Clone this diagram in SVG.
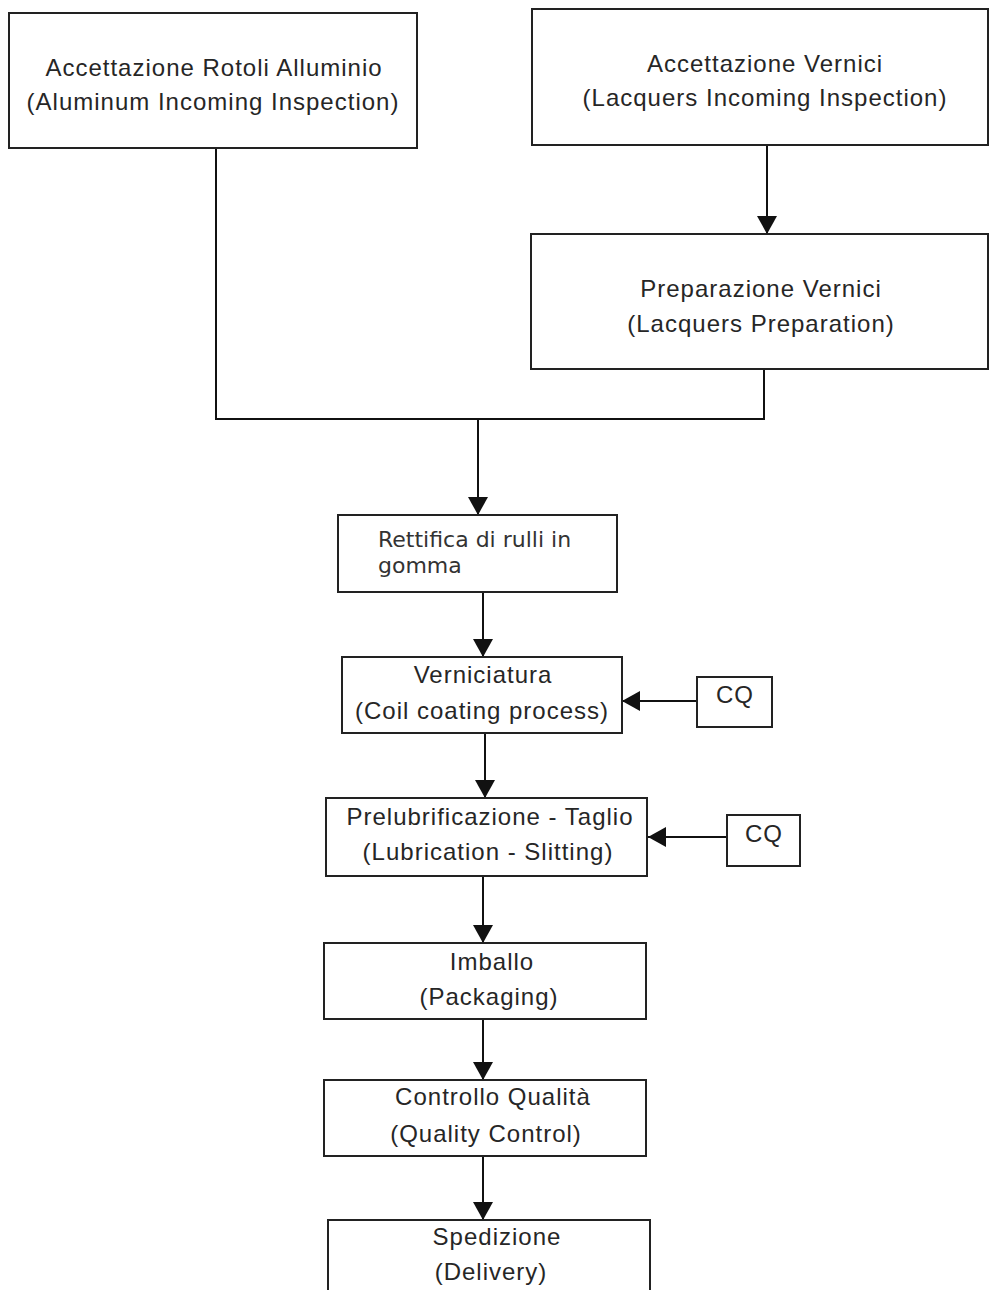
<svg xmlns="http://www.w3.org/2000/svg" width="989" height="1290" viewBox="0 0 989 1290">
<style>
.box{fill:#fff;stroke:#222;stroke-width:2}
.t{font-family:"Liberation Sans",Arial,sans-serif;font-size:24px;letter-spacing:1px;fill:#262626;text-anchor:middle}
.d{font-family:"DejaVu Sans",Verdana,sans-serif;font-size:22px;fill:#333}
.c{fill:none;stroke:#111;stroke-width:2}
</style>
<defs>
<marker id="ah" markerUnits="userSpaceOnUse" markerWidth="19" markerHeight="22" refX="18" refY="11" orient="auto">
<path d="M0,1 L18,11 L0,21 z" fill="#111"/>
</marker>
</defs>
<rect width="989" height="1290" fill="#fff"/>
<g id="connectors">
<path class="c" d="M767,145 V234" marker-end="url(#ah)"/>
<path class="c" d="M216,148 V419 H478"/>
<path class="c" d="M764,369 V419 H478"/>
<path class="c" d="M478,419 V515" marker-end="url(#ah)"/>
<path class="c" d="M483,592 V657" marker-end="url(#ah)"/>
<path class="c" d="M697,701 H622" marker-end="url(#ah)"/>
<path class="c" d="M485,733 V798" marker-end="url(#ah)"/>
<path class="c" d="M727,837 H648" marker-end="url(#ah)"/>
<path class="c" d="M483,876 V943" marker-end="url(#ah)"/>
<path class="c" d="M483,1019 V1080" marker-end="url(#ah)"/>
<path class="c" d="M483,1156 V1220" marker-end="url(#ah)"/>
</g>
<g id="n1">
<rect class="box" x="9" y="13" width="408" height="135"/>
<text class="t" x="214" y="76">Accettazione Rotoli Alluminio</text>
<text class="t" x="213" y="110">(Aluminum Incoming Inspection)</text>
</g>
<g id="n2">
<rect class="box" x="532" y="9" width="456" height="136"/>
<text class="t" x="765" y="72">Accettazione Vernici</text>
<text class="t" x="765" y="106">(Lacquers Incoming Inspection)</text>
</g>
<g id="n3">
<rect class="box" x="531" y="234" width="457" height="135"/>
<text class="t" x="761" y="297">Preparazione Vernici</text>
<text class="t" x="761" y="332">(Lacquers Preparation)</text>
</g>
<g id="n4">
<rect class="box" x="338" y="515" width="279" height="77"/>
<text class="d" x="378" y="547">Rettifica di rulli in</text>
<text class="d" x="378" y="573">gomma</text>
</g>
<g id="n5">
<rect class="box" x="342" y="657" width="280" height="76"/>
<text class="t" x="483" y="683">Verniciatura</text>
<text class="t" x="482" y="719">(Coil coating process)</text>
</g>
<g id="cq1">
<rect class="box" x="697" y="677" width="75" height="50"/>
<text class="t" x="735" y="703">CQ</text>
</g>
<g id="n6">
<rect class="box" x="326" y="798" width="321" height="78"/>
<text class="t" x="490" y="825">Prelubrificazione - Taglio</text>
<text class="t" x="488" y="860">(Lubrication - Slitting)</text>
</g>
<g id="cq2">
<rect class="box" x="727" y="815" width="73" height="51"/>
<text class="t" x="764" y="842">CQ</text>
</g>
<g id="n7">
<rect class="box" x="324" y="943" width="322" height="76"/>
<text class="t" x="492" y="970">Imballo</text>
<text class="t" x="489" y="1005">(Packaging)</text>
</g>
<g id="n8">
<rect class="box" x="324" y="1080" width="322" height="76"/>
<text class="t" x="493" y="1105">Controllo Qualità</text>
<text class="t" x="486" y="1142">(Quality Control)</text>
</g>
<g id="n9">
<rect class="box" x="328" y="1220" width="322" height="100"/>
<text class="t" x="497" y="1245">Spedizione</text>
<text class="t" x="491" y="1280">(Delivery)</text>
</g>
</svg>
